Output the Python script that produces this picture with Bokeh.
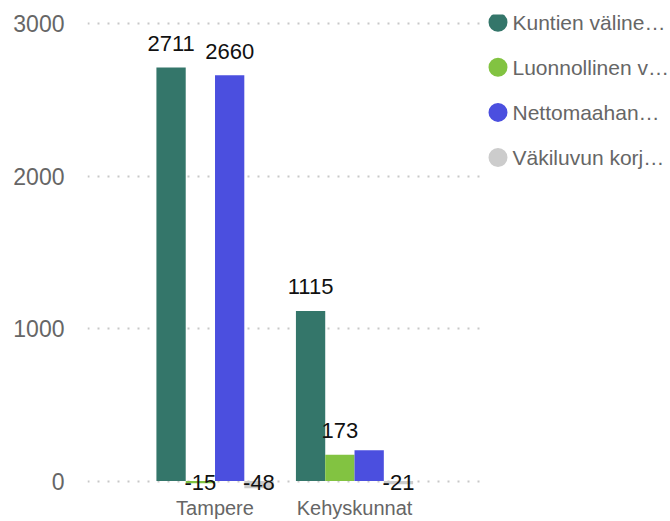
from bokeh.plotting import figure
from bokeh.models import ColumnDataSource, Range1d, FixedTicker
from bokeh.transform import dodge
from bokeh.core.properties import value
from bokeh.layouts import row
from bokeh.embed import file_html
from bokeh.resources import INLINE

# ---- data ----
categories = ["Tampere", "Kehyskunnat"]
series_names = ["Kuntien väline…", "Luonnollinen v…", "Nettomaahan…", "Väkiluvun korj…"]
series_colors = ["#34766A", "#82C341", "#4B4FDF", "#CCCCCC"]
kuntien_valinen = [2711, 1115]
luonnollinen = [-15, 173]
nettomaahanmuutto = [2660, 202]
vakiluvun_korjaus = [-48, -21]
label_shown = [[True, True], [True, True], [True, False], [True, True]]
y_ticks = [0, 1000, 2000, 3000]

series_values = [kuntien_valinen, luonnollinen, nettomaahanmuutto, vakiluvun_korjaus]

FONT = value("Liberation Sans")
GREY = "#666666"

p = figure(width=480, height=521, output_backend="svg", toolbar_location=None,
           x_range=Range1d(-0.414, 2.403), y_range=Range1d(-62, 3059),
           min_border_left=87, min_border_right=0, min_border_top=14, min_border_bottom=31)
p.outline_line_color = None
p.background_fill_color = "white"
p.border_fill_color = "white"

cat_x = [i + 0.5 for i in range(len(categories))]
bar_w = 0.21
n = len(series_names)

for k in range(n):
    off = (k - (n - 1) / 2) * bar_w
    vals = series_values[k]
    src = ColumnDataSource(dict(x=cat_x, top=vals))
    p.vbar(x=dodge("x", off, range=p.x_range), top="top", bottom=0, width=bar_w,
           fill_color=series_colors[k], line_color=None, source=src)
    pos = dict(x=[], y=[], t=[])
    neg = dict(x=[], y=[], t=[])
    for i, v in enumerate(vals):
        if not label_shown[k][i]:
            continue
        d = pos if v >= 0 else neg
        d["x"].append(cat_x[i])
        d["y"].append(v if v >= 0 else 0)
        d["t"].append(str(v))
    p.text(x=dodge("x", off, range=p.x_range), y="y", text="t", source=ColumnDataSource(pos),
           text_align="center", text_baseline="alphabetic", y_offset=-24,
           text_font=FONT, text_font_size="22px", text_color="#111111")
    p.text(x=dodge("x", off, range=p.x_range), y="y", text="t", source=ColumnDataSource(neg),
           text_align="center", text_baseline="middle", y_offset=1, level="overlay",
           text_font=FONT, text_font_size="22px", text_color="#111111")

# axes
p.xaxis.ticker = FixedTicker(ticks=cat_x)
p.xaxis.major_label_overrides = {cx: c for cx, c in zip(cat_x, categories)}
p.xaxis.axis_line_color = None
p.xaxis.major_tick_line_color = None
p.xaxis.minor_tick_line_color = None
p.xaxis.major_label_standoff = 0
p.xaxis.major_label_text_font = "Liberation Sans"
p.xaxis.major_label_text_font_size = "20px"
p.xaxis.major_label_text_color = GREY

p.yaxis.ticker = FixedTicker(ticks=y_ticks)
p.yaxis.axis_line_color = None
p.yaxis.major_tick_line_color = None
p.yaxis.minor_tick_line_color = None
p.yaxis.major_label_standoff = 17
p.yaxis.major_label_text_font = "Liberation Sans"
p.yaxis.major_label_text_font_size = "23px"
p.yaxis.major_label_text_color = GREY

p.xgrid.grid_line_color = None
p.ygrid.grid_line_color = "#C8C8C8"
p.ygrid.grid_line_width = 2
p.ygrid.grid_line_dash = "2 8"

# legend panel (its frame is aligned with the chart frame: top 14, height 476)
lg = figure(width=190, height=521, output_backend="svg", toolbar_location=None,
            x_range=Range1d(-17.5, 172.5), y_range=Range1d(10.384, -0.171),
            x_axis_location=None, y_axis_location=None,
            min_border_left=0, min_border_right=0, min_border_top=14, min_border_bottom=31)
lg.outline_line_color = None
lg.xgrid.grid_line_color = None
lg.ygrid.grid_line_color = None
lsrc = ColumnDataSource(dict(x=[0] * n, y=list(range(n)), name=series_names, color=series_colors))
lg.scatter("x", "y", size=19, fill_color="color", line_color=None, source=lsrc)
lg.text("x", "y", text="name", x_offset=14.5, text_baseline="middle", text_align="left",
        text_font=FONT, text_font_size="21px", text_color=GREY, source=lsrc)

layout = row(p, lg)
open("out.html", "w").write(file_html(layout, INLINE))
